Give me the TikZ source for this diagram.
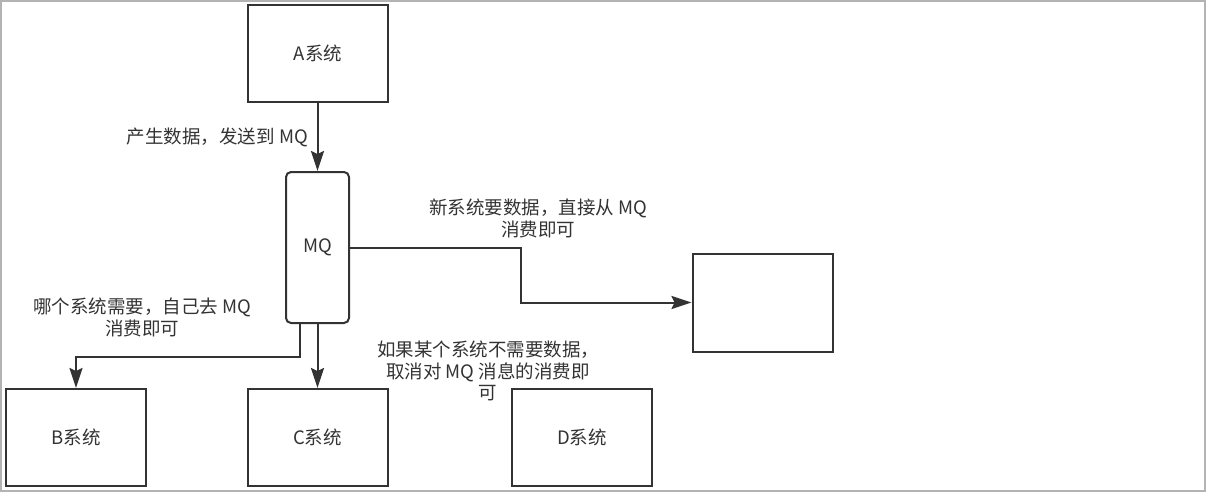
\documentclass[tikz,border=0pt]{standalone}
\usepackage{fontspec}
\setmainfont{Noto Sans CJK SC}
\usetikzlibrary{arrows.meta}
\definecolor{ink}{HTML}{333333}
\definecolor{frame}{HTML}{B3B3B3}
\begin{document}
\begin{tikzpicture}[x=1pt,y=-1pt,
  box/.style={draw=ink,line width=2pt,minimum width=140pt,minimum height=97pt,inner sep=0pt,text=ink,font=\fontsize{18.5}{22}\selectfont},
  mq/.style={box,rounded corners=5pt,minimum width=63pt,minimum height=151pt},
  lbl/.style={text=ink,inner sep=0pt,align=center,font=\fontsize{18.5}{21.5}\selectfont},
  arr/.style={draw=ink,line width=2pt,-{Stealth[length=20pt,width=13pt,inset=3pt]}}]
\useasboundingbox (0,0) rectangle (1207,493);
\draw[frame,line width=1.5pt] (0.75,0.75) rectangle (1205,491);

\node[box] (A) at (318,53) {A系统};
\node[mq] (MQ) at (317.5,247.5) {MQ};
\node[box,minimum height=98pt] (E) at (762.5,302.5) {};
\node[box] (B) at (76,437.5) {B系统};
\node[box] (C) at (317.5,437.5) {C系统};
\node[box] (D) at (582,437.5) {D系统};

\coordinate (bend) at (521,247.5);
\coordinate (b1) at (300,357);

\draw[arr] (A.south -| MQ.north) -- (MQ.north);
\draw[arr] (MQ.east) -- (bend) |- (E.west);
\draw[arr] (MQ.south -| b1) -- (b1) -| (B.north);
\draw[arr] (MQ.south) -- (C.north);

\node[lbl,anchor=east] (l1) at (308,137) {产生数据，发送到 MQ};
\node[lbl] (l2) at (538,218.5) {新系统要数据，直接从 MQ\\消费即可};
\node[lbl] (l3) at (142,317.5) {哪个系统需要，自己去 MQ\\消费即可};
\node[lbl] (l4) at (488,371) {如果某个系统不需要数据，\\取消对 MQ 消息的消费即\\可};
\end{tikzpicture}
\end{document}
